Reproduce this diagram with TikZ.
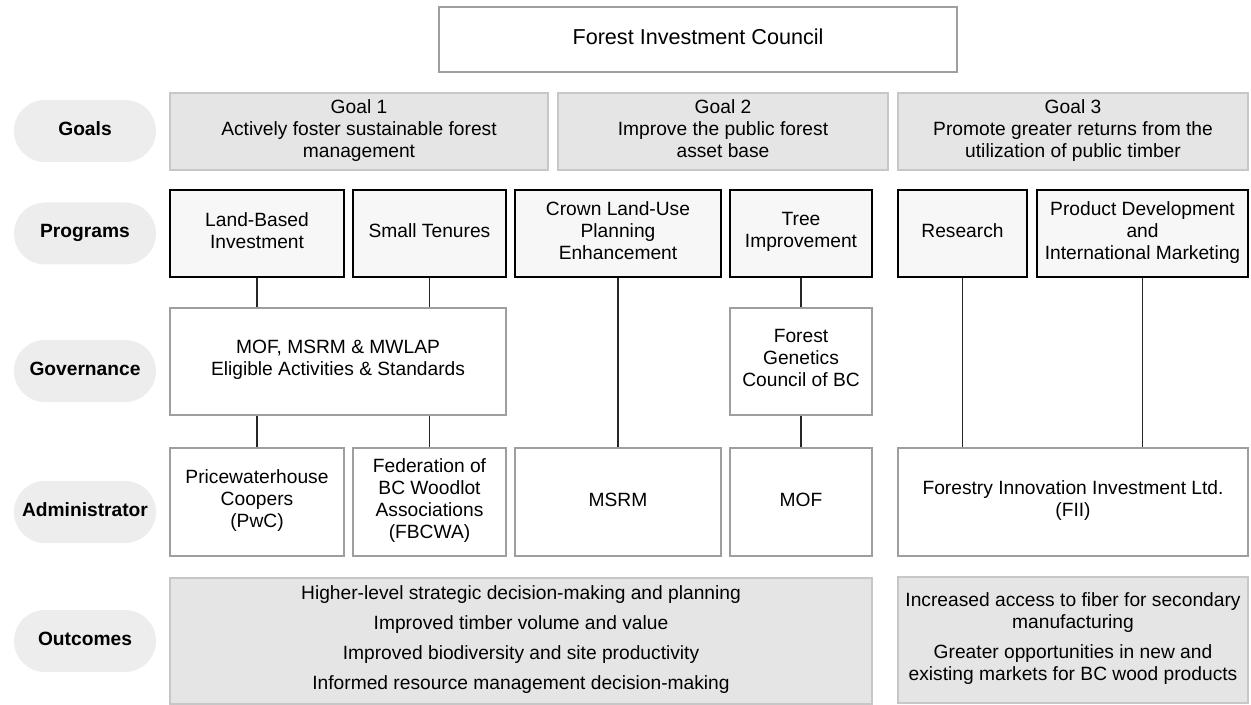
\documentclass[tikz,border=0pt]{standalone}
\usepackage{fontspec}
\setmainfont{Liberation Sans}
\usetikzlibrary{shapes.misc}

\begin{document}
\begin{tikzpicture}[x=0.5pt, y=-0.5pt,
  every node/.style={font=\fontsize{9.6}{11}\selectfont, align=center, inner sep=2pt,
    execute at begin node=\strut, execute at end node=\strut},
  council/.style={draw=black!38, line width=1.4pt, fill=white, minimum height=32.5pt},
  goal/.style={draw=black!22, line width=1.4pt, fill=black!10, minimum height=38.5pt},
  program/.style={draw=black, line width=1.4pt, fill=black!3, minimum height=43.5pt},
  office/.style={draw=black!38, line width=1.4pt, fill=white},
  outcome/.style={draw=black!22, line width=1.4pt, fill=black!10, minimum height=63pt},
  rowlabel/.style={rounded rectangle, fill=black!7, minimum width=75pt, minimum height=31pt, font=\fontsize{9.6}{11}\selectfont\bfseries},
  link/.style={line width=0.7pt, black!85}]

\useasboundingbox (0,0) rectangle (1251,705);

\node [council, minimum width=259pt] (FIC) at (698,39.5) {\fontsize{10.8}{12}\selectfont Forest Investment Council};

\node [rowlabel] (GOALS) at (85,131) {Goals};
\node [rowlabel] (PROGS) at (85,233.5) {Programs};
\node [rowlabel] (GOVS) at (85,371) {Governance};
\node [rowlabel] (ADMS) at (85,512) {Administrator};
\node [rowlabel] (OUTS) at (85,641) {Outcomes};

\node [goal, minimum width=189pt] (G1) at (359,131.5) {Goal 1\\Actively foster sustainable forest\\management};
\node [goal, minimum width=165pt] (G2) at (723,131.5) {Goal 2\\Improve the public forest\\asset base};
\node [goal, minimum width=175pt] (G3) at (1073,131.5) {Goal 3\\Promote greater returns from the\\utilization of public timber};

\node [program, minimum width=87pt] (LBI) at (257,233.5) {Land-Based\\Investment};
\node [program, minimum width=76.5pt] (ST) at (429.5,233.5) {Small Tenures};
\node [program, minimum width=103pt] (CLU) at (618,233.5) {Crown Land-Use\\Planning\\Enhancement};
\node [program, minimum width=71pt] (TI) at (801,233.5) {Tree\\Improvement};
\node [program, minimum width=64.5pt] (RES) at (962.5,233.5) {Research};
\node [program, minimum width=105.5pt] (PDM) at (1142.5,233.5) {Product Development\\and\\International Marketing};

\node [office, minimum width=168pt, minimum height=53.5pt] (GOV) at (338,361.5) {MOF, MSRM \& MWLAP\\Eligible Activities \& Standards};
\node [office, minimum width=71pt, minimum height=53.5pt] (FGC) at (801,361.5) {Forest\\Genetics\\Council of BC};

\node [office, minimum width=87pt, minimum height=54pt] (PWC) at (257,502) {Pricewaterhouse\\Coopers\\(PwC)};
\node [office, minimum width=76.5pt, minimum height=54pt] (FBC) at (429.5,502) {Federation of\\BC Woodlot\\Associations\\(FBCWA)};
\node [office, minimum width=103pt, minimum height=54pt] (MSRM) at (618,502) {MSRM};
\node [office, minimum width=71pt, minimum height=54pt] (MOF) at (801,502) {MOF};
\node [office, minimum width=175pt, minimum height=54pt] (FII) at (1073,502) {Forestry Innovation Investment Ltd.\\(FII)};

\node [outcome, minimum width=351pt] (OL) at (521,641) {Higher-level strategic decision-making and planning\\[4pt]Improved timber volume and value\\[4pt]Improved biodiversity and site productivity\\[4pt]Informed resource management decision-making};
\node [outcome, minimum width=175pt] (OR) at (1073,640) {Increased access to fiber for secondary\\manufacturing\\[4pt]Greater opportunities in new and\\existing markets for BC wood products};

\draw [link] (LBI) to (LBI |- GOV.north);
\draw [link] (ST) to (ST |- GOV.north);
\draw [link] (GOV.south -| LBI) to (PWC);
\draw [link] (GOV.south -| ST) to (FBC);
\draw [link] (CLU) to (MSRM);
\draw [link] (TI) to (FGC);
\draw [link] (FGC) to (MOF);
\draw [link] (RES) to (RES |- FII.north);
\draw [link] (PDM) to (PDM |- FII.north);
\end{tikzpicture}
\end{document}
